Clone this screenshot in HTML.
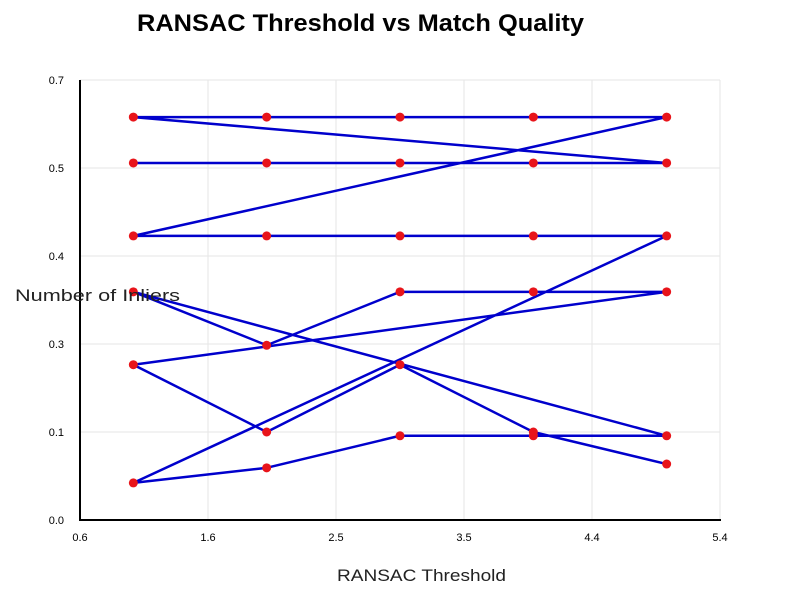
<!DOCTYPE html>
<html><head><meta charset="utf-8"><style>
body{margin:0;background:#fff;}
svg text{font-family:"Liberation Sans",sans-serif;}
</style></head><body>
<svg id="chart" width="800" height="600" xmlns="http://www.w3.org/2000/svg">
<rect width="800" height="600" fill="#fff"/>
<text x="137" y="31" font-size="24" font-weight="bold" textLength="447" lengthAdjust="spacingAndGlyphs">RANSAC Threshold vs Match Quality</text>
<g id="grid"></g>
<line x1="80" y1="80" x2="80" y2="521" stroke="#000" stroke-width="2"/>
<line x1="79" y1="520" x2="721" y2="520" stroke="#000" stroke-width="2"/>
<g id="ticks"></g>
<g id="series"></g>
<text x="15" y="301" font-size="17" fill="#222" textLength="165" lengthAdjust="spacingAndGlyphs">Number of Inliers</text>
<text x="337" y="581" font-size="17" fill="#222" textLength="169" lengthAdjust="spacingAndGlyphs">RANSAC Threshold</text>
</svg>
<script>
const xValues = [1, 2, 3, 4, 5];
const series1 = [0.568, 0.568, 0.568, 0.568, 0.568];
const series2 = [0.641, 0.641, 0.641, 0.641, 0.641];
const series3 = [0.452, 0.452, 0.452, 0.452, 0.452];
const series4 = [0.059, 0.083, 0.134, 0.134, 0.134];
const series5 = [0.363, 0.278, 0.363, 0.363, 0.363];
const series6 = [0.247, 0.140, 0.247, 0.140, 0.089];
const xTickLabels = ["0.6", "1.6", "2.5", "3.5", "4.4", "5.4"];
const yTickLabels = ["0.0", "0.1", "0.3", "0.4", "0.5", "0.7"];
const allSeries = [series1, series2, series3, series4, series5, series6];

const NS = "http://www.w3.org/2000/svg";
const X0 = 80, X1 = 720, Y0 = 520, Y1 = 80;
const xMin = 0.6, xMax = 5.4, yMin = 0, yMax = 0.7;
const xs = v => X0 + (v - xMin) / (xMax - xMin) * (X1 - X0);
const ys = v => Y0 - (v - yMin) / (yMax - yMin) * (Y0 - Y1);
function mk(tag, attrs, parent) {
  const e = document.createElementNS(NS, tag);
  for (const k in attrs) e.setAttribute(k, attrs[k]);
  parent.appendChild(e);
  return e;
}
const grid = document.getElementById('grid');
const ticks = document.getElementById('ticks');
xTickLabels.forEach((lab, i) => {
  const x = X0 + i * (X1 - X0) / (xTickLabels.length - 1);
  if (i > 0) {
    const g = mk('line', {x1: x, y1: Y1, x2: x, y2: Y0, stroke: '#e6e6e6', 'stroke-width': 1}, grid);
    
    
  }
  const t = mk('text', {x: x, y: 541, 'font-size': 11, 'text-anchor': 'middle'}, ticks);
  t.textContent = lab;
  
  
});
yTickLabels.forEach((lab, i) => {
  const y = Y0 - i * (Y0 - Y1) / (yTickLabels.length - 1);
  if (i > 0) {
    const g = mk('line', {x1: X0, y1: y, x2: X1, y2: y, stroke: '#e6e6e6', 'stroke-width': 1}, grid);
    
    
  }
  const t = mk('text', {x: 64, y: y + 4, 'font-size': 11, 'text-anchor': 'end'}, ticks);
  t.textContent = lab;
  
  
});
const sg = document.getElementById('series');
const pts = [];
allSeries.forEach(s => s.forEach((v, i) => pts.push([xs(xValues[i]), ys(v)])));
const line = mk('polyline', {points: pts.map(p => p.join(',')).join(' '), fill: 'none', stroke: '#0000cc', 'stroke-width': 2.5, 'stroke-linejoin': 'round'}, sg);


pts.forEach(p => {
  const c = mk('circle', {cx: p[0], cy: p[1], r: 4.5, fill: '#e8141a'}, sg);
  
  
});
</script>
</body></html>
